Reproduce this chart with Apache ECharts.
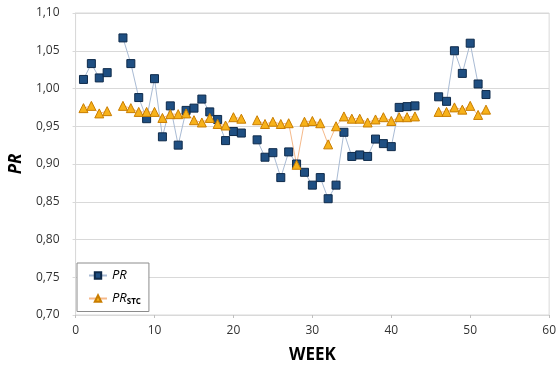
<!DOCTYPE html>
<html>
<head>
<meta charset="utf-8">
<script src="https://cdn.jsdelivr.net/npm/echarts@6/dist/echarts.min.js"></script>
<style>
html,body{margin:0;padding:0;background:#fff;}
#c{width:559px;height:369px;}
</style>
</head>
<body>
<div id="c"></div>
<script>
const weeks = [1,2,3,4,5,6,7,8,9,10,11,12,13,14,15,16,17,18,19,20,21,22,23,24,25,26,27,28,29,30,31,32,33,34,35,36,37,38,39,40,41,42,43,44,45,46,47,48,49,50,51,52];
const prValues = [1.012,1.033,1.014,1.021,null,1.067,1.033,0.988,0.960,1.013,0.936,0.977,0.925,0.971,0.974,0.986,0.969,0.959,0.931,0.943,0.941,null,0.932,0.909,0.915,0.882,0.916,0.900,0.889,0.872,0.882,0.854,0.872,0.942,0.910,0.912,0.910,0.933,0.927,0.923,0.975,0.976,0.977,null,null,0.989,0.983,1.050,1.020,1.060,1.006,0.992];
const prStcValues = [0.974,0.977,0.967,0.970,null,0.977,0.974,0.969,0.969,0.969,0.961,0.966,0.966,0.967,0.958,0.955,0.961,0.953,0.951,0.962,0.960,null,0.958,0.953,0.956,0.953,0.954,0.899,0.956,0.957,0.954,0.926,0.950,0.963,0.960,0.960,0.955,0.959,0.962,0.957,0.962,0.962,0.963,null,null,0.969,0.969,0.975,0.972,0.977,0.965,0.972];
const xTicks = {min:0, max:60, interval:10};
const yTicks = {min:0.70, max:1.10, interval:0.05};

const toData = vals => weeks.map((w,i) => [w, vals[i] === null ? '-' : vals[i]]);

const chart = echarts.init(document.getElementById('c'));
chart.setOption({
  animation: false,
  backgroundColor: '#fff',
  grid: {left: 73, right: 7, top: 13, bottom: 49, show: true, borderColor: '#d9d9d9', borderWidth: 1},
  xAxis: {
    type: 'value', min: xTicks.min, max: xTicks.max, interval: xTicks.interval,
    name: 'WEEK', nameLocation: 'middle', nameGap: 32,
    nameTextStyle: {fontFamily: 'Open Sans', fontWeight: 'bold', fontSize: 17, color: '#000'},
    axisLine: {show: true, lineStyle: {color: '#d9d9d9'}},
    axisTick: {show: true, length: 3, lineStyle: {color: '#bfbfbf'}},
    axisLabel: {fontFamily: 'Open Sans', fontSize: 12, color: '#333', margin: 10},
    splitLine: {show: false}
  },
  yAxis: {
    type: 'value', min: yTicks.min, max: yTicks.max, interval: yTicks.interval,
    name: 'PR', nameLocation: 'middle', nameGap: 48, nameRotate: 90,
    nameTextStyle: {fontFamily: 'Open Sans', fontWeight: 'bold', fontStyle: 'italic', fontSize: 17, color: '#000'},
    axisLine: {show: true, lineStyle: {color: '#d9d9d9'}},
    axisTick: {show: true, length: 3, lineStyle: {color: '#d9d9d9'}},
    axisLabel: {fontFamily: 'Open Sans', fontSize: 12, color: '#333', margin: 16,
      formatter: v => v.toFixed(2).replace('.', ',')},
    splitLine: {show: true, lineStyle: {color: '#d9d9d9', width: 1}}
  },
  legend: {
    show: true, orient: 'vertical', left: 77, top: 263,
    padding: [6, 8, 6, 11], itemGap: 10, itemWidth: 18, itemHeight: 8,
    borderColor: '#8c8c8c', borderWidth: 1, backgroundColor: '#fff',
    data: ['PR', 'PR_STC'],
    formatter: n => n === 'PR' ? '{a|PR}' : '{a|PR}{b|STC}',
    textStyle: {
      rich: {
        a: {fontFamily: 'Open Sans', fontStyle: 'italic', fontSize: 13, color: '#000'},
        b: {fontFamily: 'Open Sans', fontWeight: 'bold', fontSize: 8, color: '#000', padding: [6, 0, 0, 0]}
      }
    }
  },
  series: [
    {
      name: 'PR', type: 'line', data: toData(prValues), connectNulls: false,
      symbol: 'rect', symbolSize: 8,
      lineStyle: {color: '#a9bbd4', width: 1},
      itemStyle: {color: '#1f4f82', borderColor: '#0e2a4a', borderWidth: 1}
    },
    {
      name: 'PR_STC', type: 'line', data: toData(prStcValues), connectNulls: false,
      symbol: 'triangle', symbolSize: 9,
      lineStyle: {color: '#f5b98a', width: 1},
      itemStyle: {color: '#f7b21a', borderColor: '#c97d00', borderWidth: 1}
    }
  ]
});
</script>
</body>
</html>
